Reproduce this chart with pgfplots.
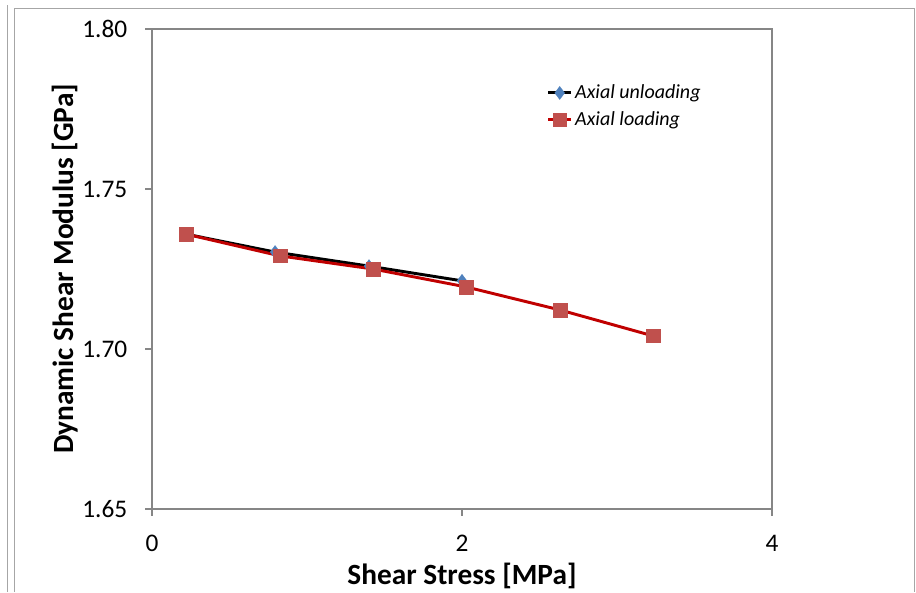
\documentclass[border=0pt]{standalone}
\usepackage{fontspec}
\setmainfont{Carlito}
\usepackage{pgfplots}
\pgfplotsset{compat=1.18}
\definecolor{axgray}{HTML}{868686}
\definecolor{mred}{HTML}{C0504D}
\definecolor{lred}{HTML}{C00000}
\definecolor{mblue}{HTML}{4F81BD}
\begin{document}
\begin{tikzpicture}[x=0.75pt,y=0.75pt]
\path[use as bounding box] (0,0) rectangle (916,592);
\draw[black!35, line width=0.75pt] (7,0) -- (7,587);
\draw[black!35, line width=0.75pt] (14,0) -- (14,583) -- (914,583) -- (914,0);
\begin{axis}[
  at={(114pt,62.25pt)}, anchor=south west,
  scale only axis, width=465pt, height=360pt,
  xmin=0, xmax=4, ymin=1.65, ymax=1.80,
  xtick={0,2,4}, ytick={1.65,1.70,1.75,1.80},
  axis line style={axgray, line width=0.9pt},
  tick style={axgray, line width=0.9pt},
  tick align=outside, major tick length=5pt,
  xtick pos=bottom, ytick pos=left,
  /pgf/number format/assume math mode=true,
  y tick label style={/pgf/number format/fixed, /pgf/number format/fixed zerofill, /pgf/number format/precision=2, xshift=-10pt},
  ticklabel style={font=\fontsize{19}{21}\selectfont, text=black},
  x tick label style={yshift=-11pt},
  xlabel={\textbf{Shear Stress [MPa]}},
  ylabel={\textbf{Dynamic Shear Modulus [GPa]}},
  label style={font=\fontsize{22}{24}\selectfont},
  xlabel style={yshift=-1.5pt},
  ylabel style={yshift=-3.5pt},
  legend style={draw=none, fill=none, at={(0.63,0.895)}, anchor=north west,
    font=\itshape\fontsize{15}{17}\selectfont, row sep=4pt},
  legend cell align=left,
]
\addplot[black, line width=2.2pt, mark=diamond*, mark size=5pt,
  mark options={fill=mblue, draw=mblue, line width=0.1pt}]
  coordinates {(0.219,1.7359) (0.794,1.7303) (1.400,1.7259) (2.000,1.7213)};
\addlegendentry{Axial unloading}
\addplot[lred, line width=2.2pt, mark=square*, mark size=5pt,
  mark options={fill=mred, draw=mred, line width=0.1pt}]
  coordinates {(0.219,1.7359) (0.826,1.7291) (1.426,1.7250) (2.026,1.7194) (2.632,1.7122) (3.232,1.7041)};
\addlegendentry{Axial loading}
\end{axis}
\end{tikzpicture}
\end{document}
